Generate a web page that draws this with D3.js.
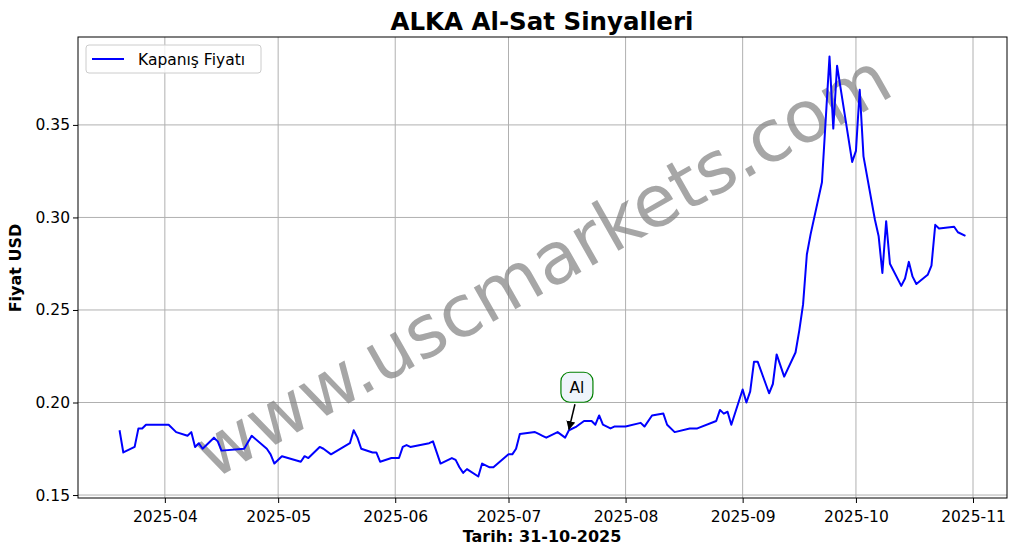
<!DOCTYPE html>
<html><head><meta charset="utf-8">
<script src="https://cdn.jsdelivr.net/npm/d3@7"></script>
<style>body{margin:0;background:#fff}svg,svg text{font-family:"DejaVu Sans",sans-serif}</style>
</head><body><svg id="c" width="1017" height="554"></svg>
<script>
const dayOffsets=[-12,-11,-8,-7,-6,-5,1,3,6,7,8,9,10,13,14,15,21,23,27,28,29,31,36,37,38,41,42,44,49,50,51,52,55,56,57,60,62,63,64,65,70,71,73,76,77,78,79,80,83,84,86,87,91,92,93,94,98,99,100,101,104,106,107,109,111,113,114,115,116,118,119,122,126,127,129,132,133,135,139,140,141,146,147,148,149,150,153,154,155,156,157,160,161,162,164,167,168,169,170,171,174,176,177,178,182,183,184,185,188,189,190,191,192,195,196,197,198,199,202,203,204,205,209,210,212];
const prices=[0.185,0.173,0.176,0.186,0.186,0.188,0.188,0.184,0.182,0.184,0.176,0.178,0.175,0.181,0.179,0.174,0.175,0.182,0.175,0.172,0.167,0.171,0.168,0.171,0.170,0.176,0.175,0.172,0.178,0.185,0.181,0.175,0.173,0.173,0.168,0.170,0.170,0.176,0.177,0.176,0.178,0.179,0.167,0.170,0.169,0.165,0.162,0.164,0.160,0.167,0.165,0.165,0.172,0.172,0.175,0.183,0.184,0.183,0.182,0.181,0.184,0.181,0.185,0.187,0.190,0.190,0.188,0.193,0.188,0.186,0.187,0.187,0.189,0.187,0.193,0.194,0.188,0.184,0.186,0.186,0.186,0.190,0.196,0.194,0.195,0.188,0.207,0.200,0.206,0.222,0.222,0.205,0.210,0.226,0.214,0.227,0.239,0.253,0.280,0.291,0.319,0.387,0.348,0.382,0.330,0.336,0.369,0.333,0.299,0.290,0.270,0.298,0.275,0.263,0.267,0.276,0.268,0.264,0.269,0.274,0.296,0.294,0.295,0.292,0.290];
const signalDay=107, signalPrice=0.185, signalLabel="Al";
const yTicks=[0.15,0.20,0.25,0.30,0.35];
const xTickDates=["2025-04-01","2025-05-01","2025-06-01","2025-07-01","2025-08-01","2025-09-01","2025-10-01","2025-11-01"];
const base=new Date(2025,3,1);
const data=dayOffsets.map((d,i)=>({date:d3.timeDay.offset(base,d),v:prices[i]}));
const svg=d3.select("#c");
const L=78,R=1007,T=37,B=498;
const x=d3.scaleTime().domain([d3.timeDay.offset(base,-23),d3.timeDay.offset(base,223.5)]).range([L,R]);
const y=d3.scaleLinear().domain([0.1484,0.3975]).range([B,T]);
const xt=xTickDates.map(s=>{const [a,b,c]=s.split("-").map(Number);return new Date(a,b-1,c);});
svg.append("g").selectAll("line").data(xt).join("line").attr("x1",d=>x(d)).attr("x2",d=>x(d)).attr("y1",T).attr("y2",B).attr("stroke","#b0b0b0").attr("stroke-width",1);
svg.append("g").selectAll("line").data(yTicks).join("line").attr("y1",d=>y(d)).attr("y2",d=>y(d)).attr("x1",L).attr("x2",R).attr("stroke","#b0b0b0").attr("stroke-width",1);
svg.append("text").attr("transform","translate(545,270) rotate(-29.5)").attr("text-anchor","middle").attr("dominant-baseline","middle").attr("font-size",72).attr("fill","#808080").attr("fill-opacity",0.7).text("www.uscmarkets.com");
svg.append("path").datum(data).attr("fill","none").attr("stroke","#0000ff").attr("stroke-width",2).attr("stroke-linejoin","round").attr("d",d3.line().x(d=>x(d.date)).y(d=>y(d.v)));
const xa=svg.append("g").attr("transform",`translate(0,${B})`).call(d3.axisBottom(x).tickValues(xt).tickFormat(d3.timeFormat("%Y-%m")).tickSizeOuter(0).tickSize(5));
const ya=svg.append("g").attr("transform",`translate(${L},0)`).call(d3.axisLeft(y).tickValues(yTicks).tickFormat(d3.format(".2f")).tickSizeOuter(0).tickSize(5));
[xa,ya].forEach(a=>{a.selectAll("text").attr("font-size",15.5).attr("fill","#000").attr("font-family","DejaVu Sans");a.select(".domain").remove();a.selectAll("line").attr("stroke","#000");});
xa.selectAll("text").attr("dy","1.05em");
ya.selectAll("text").attr("x",-8);
svg.append("rect").attr("x",L).attr("y",T).attr("width",R-L).attr("height",B-T).attr("fill","none").attr("stroke","#000").attr("stroke-width",1);
const sx=x(d3.timeDay.offset(base,signalDay)), sy=y(signalPrice);
svg.append("defs").append("marker").attr("id","ah").attr("viewBox","0 0 10 10").attr("refX",9).attr("refY",5).attr("markerWidth",6).attr("markerHeight",6).attr("orient","auto").append("path").attr("d","M0,0L10,5L0,10z").attr("fill","#000");
svg.append("line").attr("x1",sx+6).attr("y1",sy-26).attr("x2",sx).attr("y2",sy-1).attr("stroke","#000").attr("stroke-width",1.5).attr("marker-end","url(#ah)");
svg.append("rect").attr("x",sx-8).attr("y",sy-58).attr("width",32).attr("height",30).attr("rx",9).attr("fill","#eef4fb").attr("stroke","green").attr("stroke-width",1.2);
svg.append("text").attr("x",sx+8).attr("y",sy-37).attr("text-anchor","middle").attr("font-size",15.5).text(signalLabel);
svg.append("text").attr("x",542).attr("y",30).attr("text-anchor","middle").attr("font-size",24.5).attr("font-weight","bold").text("ALKA Al-Sat Sinyalleri");
svg.append("text").attr("x",542).attr("y",542).attr("text-anchor","middle").attr("font-size",16).attr("font-weight","bold").text("Tarih: 31-10-2025");
svg.append("text").attr("transform","translate(21,268) rotate(-90)").attr("text-anchor","middle").attr("font-size",16).attr("font-weight","bold").text("Fiyat USD");
const lg=svg.append("g").attr("transform","translate(86,45)");
lg.append("rect").attr("width",175).attr("height",28).attr("rx",3).attr("fill","#fff").attr("fill-opacity",0.8).attr("stroke","#ccc");
lg.append("line").attr("x1",6).attr("x2",38).attr("y1",14).attr("y2",14).attr("stroke","#0000ff").attr("stroke-width",2);
lg.append("text").attr("x",52).attr("y",19.5).attr("font-size",15.5).text("Kapanış Fiyatı");
</script></body></html>
